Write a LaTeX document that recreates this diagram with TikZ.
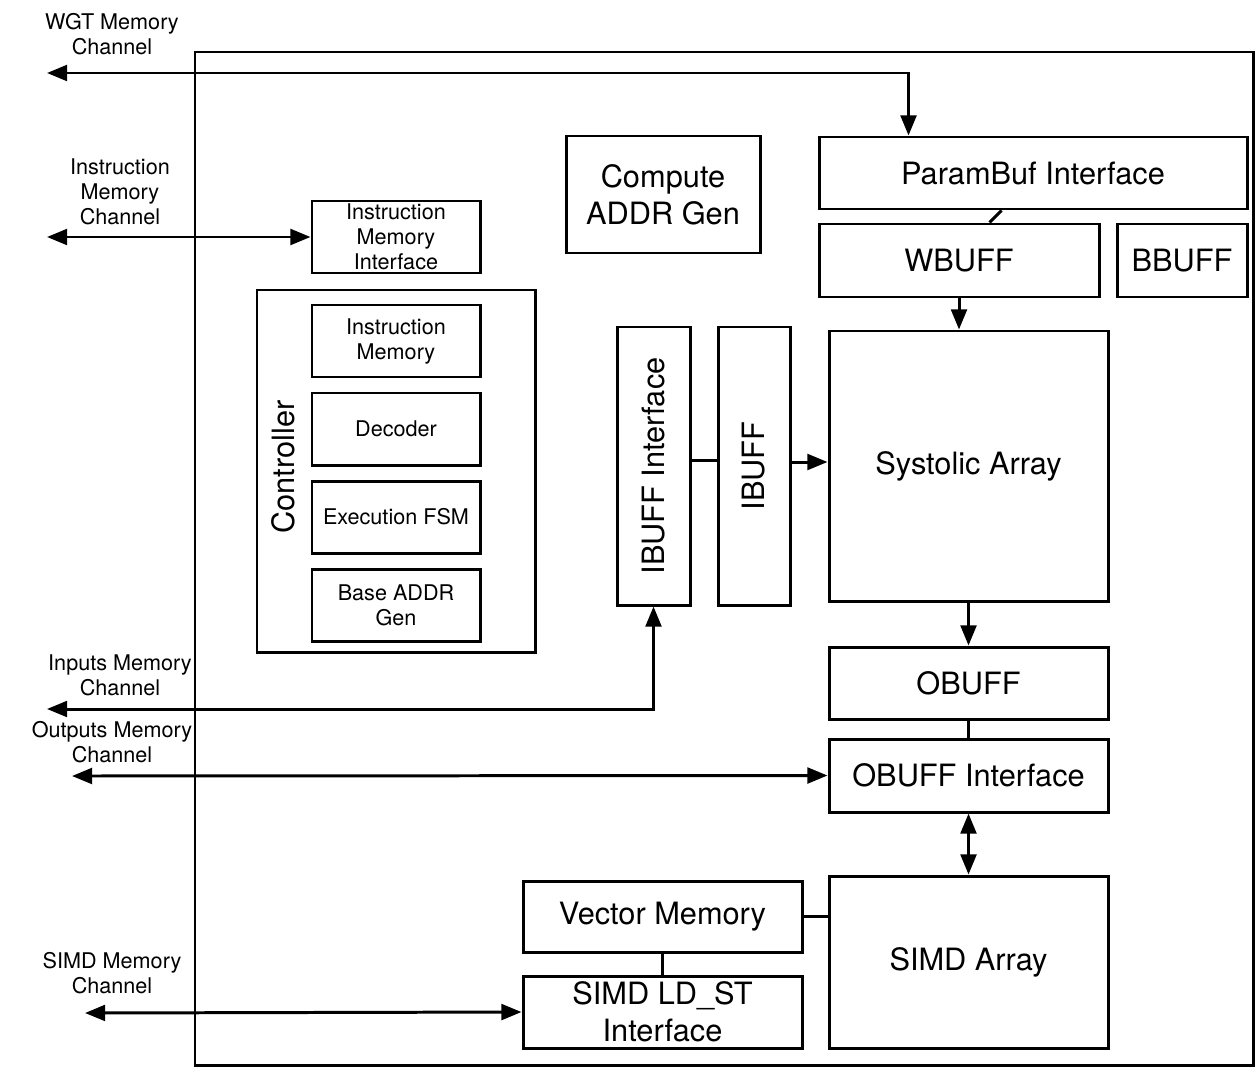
\documentclass[tikz,border=0pt]{standalone}
\usepackage{fontspec}
\setmainfont{TeX Gyre Heros}
\usetikzlibrary{calc,arrows.meta}

\newcommand\bigtxt{\fontsize{17.5}{21}\selectfont}
\newcommand\smalltxt{\fontsize{12.3}{14.2}\selectfont}

\begin{document}
\begin{tikzpicture}[x=0.02cm, y=-0.02cm,
		blk/.style 2 args={draw, line width=1.7pt, inner sep=0pt, align=center,
			minimum width=#1*0.02cm, minimum height=#2*0.02cm},
		lbl/.style={align=center, inner sep=0pt, font=\smalltxt},
		wire/.style={line width=1.7pt},
		>={Triangle[length=11.5pt, width=9pt]}]

		\useasboundingbox (0,0) rectangle (1256,1068);

		\pgfmathsetmacro{\bw}{279}
		\pgfmathsetmacro{\bh}{72}
		\pgfmathsetmacro{\cx}{968.5}

		% accelerator border
		\draw[wire] (195,52) rectangle (1253,1065);

		% weight side
		\node[blk={428}{\bh}, font=\bigtxt] (pbuf) at (1033,173) {ParamBuf Interface};
		\node[blk={280}{73}, font=\bigtxt] (wbuf) at (959,260.5) {WBUFF};
		\node[blk={130}{73}, font=\bigtxt] (bbuf) at (1182,260.5) {BBUFF};
		\node[blk={194}{117}, font=\bigtxt] (cgen) at (663,194.5) {Compute\\ADDR Gen};

		% controller
		\node[blk={168}{\bh}, font=\smalltxt] (imif) at (396,237) {Instruction\\Memory\\Interface};
		\node[blk={278}{362}] (ctrl) at (396,471) {};
		\node[rotate=90, inner sep=0pt, font=\bigtxt] (ctrllbl) at (283,467) {Controller};
		\foreach \name/\txt [count=\i from 0] in {imem/{Instruction\\Memory}, dec/Decoder, fsm/Execution FSM, bgen/{Base ADDR\\Gen}}
		{
			\node[blk={168}{\bh}, font=\smalltxt] (\name) at (396, 341 + 88 * \i) {\txt};
		}

		% main datapath
		\node[blk={73}{278}] (ibif) at (653.5,466) {};
		\node[rotate=90, font=\bigtxt] at (ibif.center) {IBUFF Interface};
		\node[blk={72}{278}] (ibuf) at (754,466) {};
		\node[rotate=90, font=\bigtxt] at (ibuf.center) {IBUFF};
		\node[blk={\bw}{270}, font=\bigtxt] (sys) at (\cx,466) {Systolic Array};
		\node[blk={\bw}{\bh}, font=\bigtxt] (obuf) at (\cx,683) {OBUFF};
		\node[blk={\bw}{73}, font=\bigtxt] (obif) at (\cx,775.5) {OBUFF Interface};
		\node[blk={\bw}{172}, font=\bigtxt] (simd) at (\cx,962) {SIMD Array};
		\node[blk={\bw}{71}, font=\bigtxt] (vmem) at (662.5,916.5) {Vector Memory};
		\node[blk={\bw}{\bh}, font=\bigtxt] (ldst) at (662.5,1012) {SIMD LD\_ST\\Interface};

		% memory channels
		\node[lbl] (wgtlbl) at (112,34) {WGT Memory\\Channel};
		\node[lbl] (instlbl) at (120,192) {Instruction\\Memory\\Channel};
		\node[lbl] (inlbl) at (120,675) {Inputs Memory\\Channel};
		\node[lbl] (outlbl) at (112,742) {Outputs Memory\\Channel};
		\node[lbl] (simdlbl) at (112,973) {SIMD Memory\\Channel};

		\coordinate (wgtch) at (47,73);
		\coordinate (instch) at (47,237);
		\coordinate (inch) at (47,709);
		\coordinate (outch) at (72,776);
		\coordinate (simdch) at (85,1013);

		\draw[wire, <->] (wgtch) -| ($(pbuf.north west)+(91,0)$);
		\draw[wire, <->] (instch) -- (imif.west);
		\draw[wire, <->] (inch) -| (ibif.south);
		\draw[wire, <->] (outch) -- (obif.west);
		\draw[wire, <->] (simdch) -- (ldst.west);

		% internal links
		\draw[wire] ($(pbuf.south west)+(184,0)$) -- ($(wbuf.north west)+(172,0)$);
		\draw[wire, ->] (wbuf.south) -- (wbuf.south |- sys.north);
		\draw[wire] ($(ibif.east)+(0,-6)$) -- ($(ibuf.west)+(0,-6)$);
		\draw[wire, ->] ($(ibuf.east)+(0,-4)$) -- ($(sys.west)+(0,-4)$);
		\draw[wire, ->] (sys.south) -- (obuf.north);
		\draw[wire] (obuf.south) -- (obif.north);
		\draw[wire, <->] (obif.south) -- (simd.north);
		\draw[wire] (vmem.east) -- (vmem.east -| simd.west);
		\draw[wire] (vmem.south) -- (ldst.north);

	\end{tikzpicture}
\end{document}
